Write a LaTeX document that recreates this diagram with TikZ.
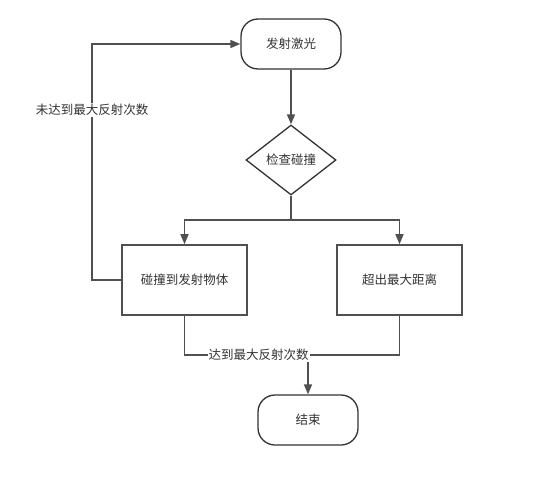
\documentclass[tikz,border=0pt]{standalone}
\usepackage{fontspec}
\setmainfont{Noto Sans CJK SC}
\usepackage{xcolor}
\usetikzlibrary{positioning, arrows.meta, shapes.geometric}
\definecolor{linegray}{HTML}{505050}
\definecolor{textgray}{HTML}{333333}

\begin{document}
\begin{tikzpicture}[x=1pt, y=-1pt,
    font=\fontsize{12.5}{14}\selectfont, text=textgray,
    terminal/.style={draw=textgray, line width=1.3pt, rounded corners=17pt,
      minimum width=100pt, minimum height=50pt},
    decision/.style={draw=textgray, line width=1.3pt, diamond, aspect=1.2857,
      minimum width=90pt, minimum height=70pt, inner sep=0pt},
    process/.style={draw=linegray, line width=1.6pt,
      minimum width=125pt, minimum height=70pt},
    flow/.style={draw=linegray, line width=1.5pt, -{Triangle[length=10pt, width=8pt]}},
    plain/.style={draw=linegray, line width=1.5pt},
    lbl/.style={fill=white, inner sep=1pt}]
  \useasboundingbox (0,0) rectangle (545,478);

  \node[terminal] (start) at (291,44) {发射激光};
  \node[decision] (check) at (291,160) {检查碰撞};
  \node[process] (hit) at (184.5,280) {碰撞到发射物体};
  \node[process] (far) at (399.5,280) {超出最大距离};
  \node[terminal] (stop) at (308,420) {结束};

  \coordinate (split) at (291,220);
  \coordinate (merge) at (308,355);

  \draw[flow] (start) -- (check);
  \draw[plain] (check) -- (split);
  \draw[flow] (split) -| (hit);
  \draw[flow] (split) -| (far);
  % loop back
  \draw[flow] (hit.west) -- ++(-29,0) |- (start.west)
    node[lbl, pos=0.36] {未达到最大反射次数};
  % both branches meet
  \draw[flow] (merge) -- (stop);
  \draw[plain] (far.south) |- (merge);
  \draw[plain] (hit.south) |- (merge)
    node[lbl, pos=0.80] {达到最大反射次数};
\end{tikzpicture}
\end{document}
